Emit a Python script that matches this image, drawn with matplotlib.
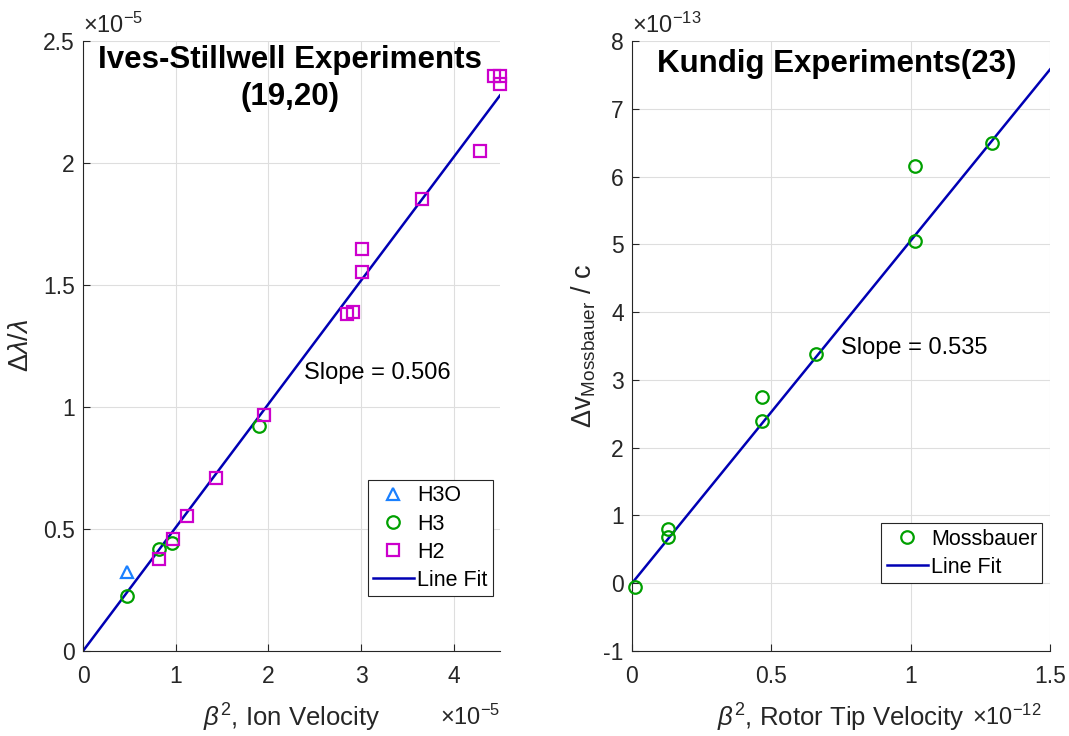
import matplotlib
matplotlib.use("Agg")
import matplotlib.pyplot as plt
import numpy as np

plt.rcParams['font.family'] = ['Liberation Sans', 'DejaVu Sans']
plt.rcParams['mathtext.fontset'] = 'custom'
plt.rcParams['mathtext.rm'] = 'Liberation Sans'
plt.rcParams['mathtext.it'] = 'Liberation Sans:italic'
plt.rcParams['mathtext.bf'] = 'Liberation Sans:bold'

# ---------------- Data: left panel (x in 1e-5, y in 1e-5) ----------------
h3o_x = [0.475]
h3o_y = [0.325]
h3_x = [0.48, 0.82, 0.957, 1.90]
h3_y = [0.225, 0.42, 0.441, 0.923]
h2_x = [0.82, 0.975, 1.12, 1.44, 1.95, 2.85, 2.91, 3.006, 3.006, 3.66, 4.28, 4.43, 4.50, 4.50]
h2_y = [0.378, 0.46, 0.555, 0.71, 0.966, 1.381, 1.39, 1.552, 1.648, 1.852, 2.049, 2.357, 2.357, 2.324]
fit1_x = [0.0, 4.5]
fit1_y = [0.0, 2.277]
slope1_label = "Slope = 0.506"

# ---------------- Data: right panel (x in 1e-12, y in 1e-13) ----------------
moss_x = [0.011, 0.128, 0.128, 0.466, 0.466, 0.66, 1.014, 1.014, 1.291]
moss_y = [-0.056, 0.80, 0.68, 2.75, 2.39, 3.38, 6.16, 5.05, 6.50]
fit2_x = [0.0, 1.5]
fit2_y = [0.0, 7.58]
slope2_label = "Slope = 0.535"

blue_line = '#0000B4'
green = '#00A000'
magenta = '#CC00CC'
tri_blue = '#1A80FF'
tick_col = '#262626'

TICK_FS = 16.5
LABEL_FS = 18.5
TITLE_FS = 22.5
TEXT_FS = 17
LEG_FS = 15.5
OFF_FS = 17

fig = plt.figure(figsize=(10.69, 7.36), dpi=100)
W, H = 1069, 736

def make_ax(x0, x1, y0, y1):
    return fig.add_axes([x0 / W, 1 - y1 / H, (x1 - x0) / W, (y1 - y0) / H])

def style(ax):
    for s in ['top', 'right']:
        ax.spines[s].set_visible(False)
    for s in ['left', 'bottom']:
        ax.spines[s].set_color(tick_col)
        ax.spines[s].set_linewidth(0.8)
    ax.tick_params(direction='in', length=5, width=0.8, colors=tick_col,
                   labelsize=TICK_FS, labelcolor=tick_col)
    ax.tick_params(axis='x', pad=10)
    ax.tick_params(axis='y', pad=6)
    ax.grid(True, color='#DEDEDE', linewidth=0.8)
    ax.set_axisbelow(True)

def legend(ax, anchor):
    leg = ax.legend(loc='lower right', bbox_to_anchor=anchor, fontsize=LEG_FS,
                    fancybox=False, framealpha=1, edgecolor=tick_col, handlelength=1.9,
                    borderpad=0.25, labelspacing=0.33, handletextpad=0.15, borderaxespad=0)
    leg.get_frame().set_linewidth(0.8)
    return leg

# ---------------- Left axes ----------------
ax1 = make_ax(83, 500, 41, 651)
style(ax1)
ax1.plot(h3o_x, h3o_y, linestyle='none', marker='^', ms=9, mfc='none', mec=tri_blue, mew=1.6, label='H3O', clip_on=False, zorder=3)
ax1.plot(h3_x, h3_y, linestyle='none', marker='o', ms=9, mfc='none', mec=green, mew=1.6, label='H3', clip_on=False, zorder=3)
ax1.plot(h2_x, h2_y, linestyle='none', marker='s', ms=8, mfc='none', mec=magenta, mew=1.6, label='H2', clip_on=False, zorder=3)
ax1.plot(fit1_x, fit1_y, color=blue_line, lw=1.8, label='Line Fit', zorder=2)
ax1.set_xlim(0, 4.5)
ax1.set_ylim(0, 2.5)
ax1.set_xticks([0, 1, 2, 3, 4])
ax1.set_xticklabels(['0', '1', '2', '3', '4'])
ax1.set_yticks([0, 0.5, 1, 1.5, 2, 2.5])
ax1.set_yticklabels(['0', '0.5', '1', '1.5', '2', '2.5'])
ax1.set_ylabel(r'$\Delta\lambda/\lambda$', fontsize=LABEL_FS + 1, color=tick_col, labelpad=6)
ax1.set_xlabel(r'$\it{\beta}^2$, Ion Velocity', fontsize=LABEL_FS, color=tick_col, labelpad=10)
ax1.text(0.496, 0.938, 'Ives-Stillwell Experiments\n(19,20)', transform=ax1.transAxes,
         ha='center', va='center', fontsize=TITLE_FS, fontweight='bold', linespacing=1.3)
ax1.text(2.39, 1.14, slope1_label, fontsize=TEXT_FS, ha='left', va='center')
ax1.text(0.0, 1.005, r'$\times10^{-5}$', transform=ax1.transAxes, fontsize=OFF_FS, color=tick_col, ha='left', va='bottom')
fig.text(440 / W, 1 - 717 / H, r'$\times10^{-5}$', fontsize=OFF_FS, color=tick_col, ha='left', va='center')
legend(ax1, (0.983, 0.09))

# ---------------- Right axes ----------------
ax2 = make_ax(632, 1050, 41, 651)
style(ax2)
ax2.plot(moss_x, moss_y, linestyle='none', marker='o', ms=9, mfc='none', mec=green, mew=1.6, label='Mossbauer', clip_on=False, zorder=3)
ax2.plot(fit2_x, fit2_y, color=blue_line, lw=1.8, label='Line Fit', zorder=2)
ax2.set_xlim(0, 1.5)
ax2.set_ylim(-1, 8)
ax2.set_xticks([0, 0.5, 1, 1.5])
ax2.set_xticklabels(['0', '0.5', '1', '1.5'])
ax2.set_yticks(range(-1, 9))
ax2.set_yticklabels([str(v) for v in range(-1, 9)])
ax2.set_ylabel(r'$\Delta$v$_{\mathrm{Mossbauer}}$ / c', fontsize=LABEL_FS + 1, color=tick_col, labelpad=4)
ax2.set_xlabel(r'$\it{\beta}^2$, Rotor Tip Velocity', fontsize=LABEL_FS, color=tick_col, labelpad=10)
ax2.text(0.489, 0.962, 'Kundig Experiments(23)', transform=ax2.transAxes,
         ha='center', va='center', fontsize=TITLE_FS, fontweight='bold')
ax2.text(0.75, 3.47, slope2_label, fontsize=TEXT_FS, ha='left', va='center')
ax2.text(0.0, 1.005, r'$\times10^{-13}$', transform=ax2.transAxes, fontsize=OFF_FS, color=tick_col, ha='left', va='bottom')
fig.text(972 / W, 1 - 717 / H, r'$\times10^{-12}$', fontsize=OFF_FS, color=tick_col, ha='left', va='center')
legend(ax2, (0.982, 0.111))

fig.savefig('out.png', dpi=100)
